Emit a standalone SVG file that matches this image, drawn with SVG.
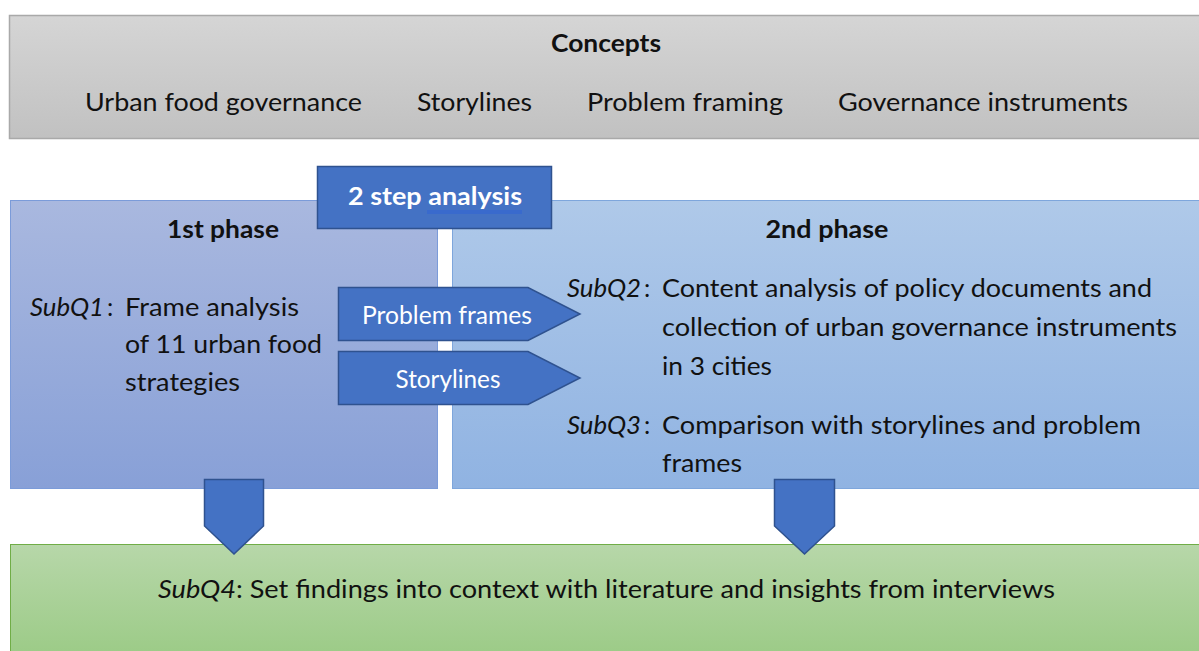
<svg xmlns="http://www.w3.org/2000/svg" width="1199" height="651" viewBox="0 0 1199 651">
  <defs>
    <linearGradient id="gGray" x1="0" y1="0" x2="0" y2="1">
      <stop offset="0" stop-color="#d5d5d5"/>
      <stop offset="1" stop-color="#c1c1c1"/>
    </linearGradient>
    <linearGradient id="gPhase1" x1="0" y1="0" x2="0" y2="1">
      <stop offset="0" stop-color="#a9b8df"/>
      <stop offset="1" stop-color="#88a0d7"/>
    </linearGradient>
    <linearGradient id="gPhase2" x1="0" y1="0" x2="0" y2="1">
      <stop offset="0" stop-color="#afc9e9"/>
      <stop offset="1" stop-color="#90b3e2"/>
    </linearGradient>
    <linearGradient id="gGreen" x1="0" y1="0" x2="0" y2="1">
      <stop offset="0" stop-color="#b7d7a9"/>
      <stop offset="1" stop-color="#9ccb87"/>
    </linearGradient>
  </defs>
  <style>
    text { font-family: Lato, "Liberation Sans", sans-serif; font-size: 25px; fill: #111; }
    .b { font-weight: bold; }
    .i { font-style: italic; }
    .w { fill: #ffffff; }
    .mid { text-anchor: middle; }
    .blue { fill: #4472c4; stroke: #2f528f; stroke-width: 1.5; }
  </style>

  <rect width="1199" height="651" fill="#ffffff"/>

  <!-- concepts bar -->
  <g id="concepts">
    <rect x="9.5" y="15.5" width="1195" height="123" fill="url(#gGray)" stroke="#a9a9a9" stroke-width="1.5"/>
    <text class="b mid" x="606" y="52" textLength="110" lengthAdjust="spacingAndGlyphs">Concepts</text>
    <text x="85" y="111" textLength="277" lengthAdjust="spacingAndGlyphs">Urban food governance</text>
    <text x="417" y="111" textLength="115" lengthAdjust="spacingAndGlyphs">Storylines</text>
    <text x="587" y="111" textLength="196" lengthAdjust="spacingAndGlyphs">Problem framing</text>
    <text x="838" y="111" textLength="290" lengthAdjust="spacingAndGlyphs">Governance instruments</text>
  </g>

  <!-- phase 1 -->
  <g id="phase1">
    <rect x="10.5" y="200.5" width="427" height="288" fill="url(#gPhase1)" stroke="#7b9bd9" stroke-width="1"/>
    <text class="b mid" x="223" y="238" textLength="112" lengthAdjust="spacingAndGlyphs">1st phase</text>
    <text class="i" x="30" y="316" textLength="74" lengthAdjust="spacingAndGlyphs">SubQ1</text>
    <text x="107" y="316">:</text>
    <text x="125" y="316" textLength="174" lengthAdjust="spacingAndGlyphs">Frame analysis</text>
    <text x="125" y="353" textLength="197" lengthAdjust="spacingAndGlyphs">of 11 urban food</text>
    <text x="125" y="391" textLength="115" lengthAdjust="spacingAndGlyphs">strategies</text>
  </g>

  <!-- phase 2 -->
  <g id="phase2">
    <rect x="452.5" y="200.5" width="752" height="288" fill="url(#gPhase2)" stroke="#7ea6dc" stroke-width="1"/>
    <text class="b mid" x="827" y="238" textLength="123" lengthAdjust="spacingAndGlyphs">2nd phase</text>
    <text class="i" x="567" y="297" textLength="74" lengthAdjust="spacingAndGlyphs">SubQ2</text>
    <text x="644" y="297">:</text>
    <text x="662" y="297" textLength="490" lengthAdjust="spacingAndGlyphs">Content analysis of policy documents and</text>
    <text x="662" y="336" textLength="515" lengthAdjust="spacingAndGlyphs">collection of urban governance instruments</text>
    <text x="662" y="375" textLength="110" lengthAdjust="spacingAndGlyphs">in 3 cities</text>
    <text class="i" x="567" y="434" textLength="74" lengthAdjust="spacingAndGlyphs">SubQ3</text>
    <text x="644" y="434">:</text>
    <text x="662" y="434" textLength="479" lengthAdjust="spacingAndGlyphs">Comparison with storylines and problem</text>
    <text x="662" y="472" textLength="80" lengthAdjust="spacingAndGlyphs">frames</text>
  </g>

  <!-- synthesis -->
  <g id="synthesis">
    <rect x="10.5" y="544.5" width="1195" height="110" fill="url(#gGreen)" stroke="#70ad47" stroke-width="1"/>
    <text x="158" y="598" textLength="897" lengthAdjust="spacingAndGlyphs"><tspan class="i">SubQ4</tspan>: Set findings into context with literature and insights from interviews</text>
  </g>

  <!-- title tab -->
  <g id="two-step">
    <rect class="blue" x="317.5" y="166.5" width="234" height="62"/>
    <text class="b w" x="348" y="205" textLength="174" lengthAdjust="spacingAndGlyphs">2 step analysis</text>
    <line x1="427" y1="211" x2="522" y2="211" stroke="#2e63d6" stroke-width="1"/>
    <line x1="427" y1="213" x2="522" y2="213" stroke="#2e63d6" stroke-width="1"/>
  </g>

  <!-- connectors -->
  <g id="connectors">
    <g id="problem-frames">
      <polygon class="blue" points="338.5,287.5 528,287.5 580,314 528,340.5 338.5,340.5"/>
      <text class="w mid" x="447" y="324" textLength="170" lengthAdjust="spacingAndGlyphs">Problem frames</text>
    </g>
    <g id="storylines">
      <polygon class="blue" points="338.5,351.5 528,351.5 580,378 528,404.5 338.5,404.5"/>
      <text class="w mid" x="448" y="388" textLength="105" lengthAdjust="spacingAndGlyphs">Storylines</text>
    </g>
    <polygon class="blue" points="204.5,479.5 263.5,479.5 263.5,526 234,554 204.5,526"/>
    <polygon class="blue" points="774.5,479.5 834.5,479.5 834.5,526 804.5,554 774.5,526"/>
  </g>
</svg>
